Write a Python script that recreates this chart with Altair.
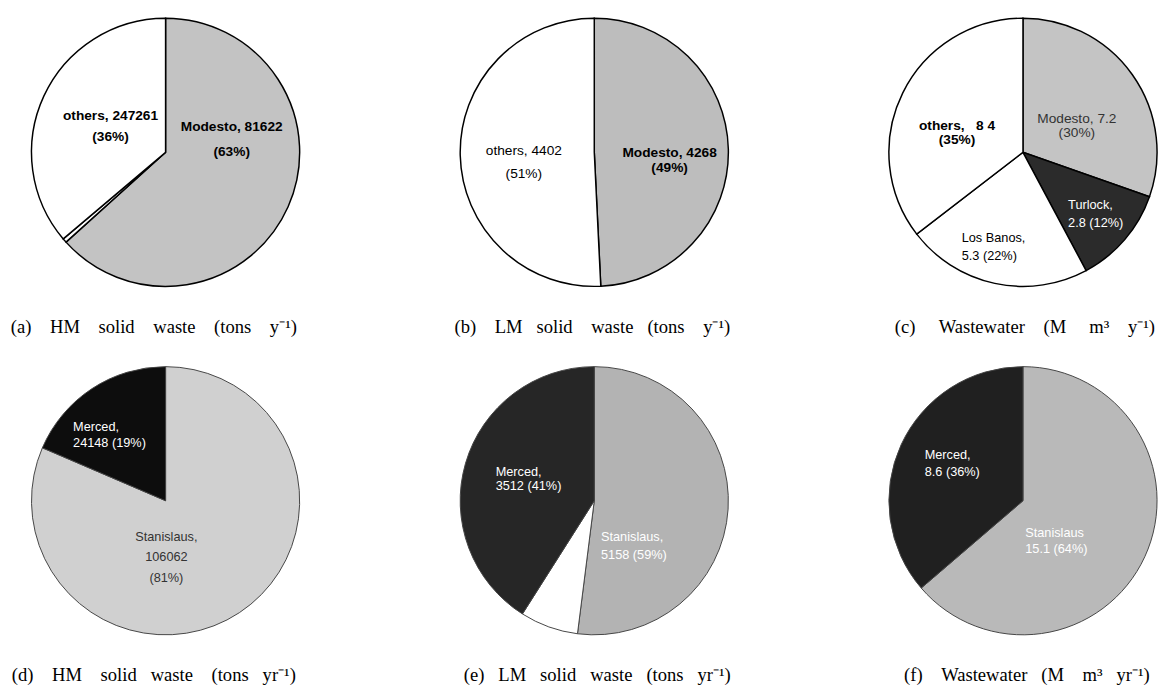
import altair as alt
import pandas as pd

NB = "\u00a0"
G5 = NB * 5
G4 = NB * 4  # wide word gap used in the captions
G3 = NB * 3

# ---------------- data (angular shares, label text as printed) ----
a_names = ["Modesto", "gap", "others"]
a_share = [63, 0.5, 36]
a_labels = ["Modesto, 81622\n(63%)", "", "others, 247261\n(36%)"]

b_names = ["Modesto", "others"]
b_share = [4268, 4402]
b_labels = ["Modesto, 4268\n(49%)", "others, 4402\n(51%)"]

c_names = ["Modesto", "Turlock", "Los Banos", "others"]
c_share = [7.2, 2.8, 5.3, 8.4]
c_labels = ["Modesto, 7.2\n(30%)", "Turlock,\n2.8 (12%)", "Los" + NB + "Banos,\n5.3 (22%)",
            "others," + NB * 3 + "8 4\n(35%)"]

d_names = ["Stanislaus", "Merced"]
d_share = [106062, 24148]
d_labels = ["Stanislaus,\n106062\n(81%)", "Merced,\n24148 (19%)"]

e_names = ["Stanislaus", "white", "Merced"]
e_share = [52, 7, 41]
e_labels = ["Stanislaus,\n5158 (59%)", "", "Merced,\n3512 (41%)"]

f_names = ["Stanislaus", "Merced"]
f_share = [15.1, 8.6]
f_labels = ["Stanislaus\n15.1 (64%)", "Merced,\n8.6 (36%)"]

captions = [
    "(a)" + G4 + "HM" + G4 + "solid" + G4 + "waste" + G4 + "(tons" + G4 + "y\u207b\u00b9)",
    "(b)" + G4 + "LM" + G3 + "solid" + G4 + "waste" + G3 + "(tons" + G4 + "y\u207b\u00b9)",
    "(c)" + G5 + "Wastewater" + G4 + "(M" + G5 + "m\u00b3" + G4 + "y\u207b\u00b9)",
    "(d)" + G4 + "HM" + G4 + "solid" + G3 + "waste" + G4 + "(tons" + G3 + "yr\u207b\u00b9)",
    "(e)" + G3 + "LM" + G3 + "solid" + G3 + "waste" + G3 + "(tons" + G3 + "yr\u207b\u00b9)",
    "(f)" + G4 + "Wastewater" + G3 + "(M" + G4 + "m\u00b3" + G3 + "yr\u207b\u00b9)",
]

W, H, R = 270, 280, 137


def pie(names, shares, labels, colors, specs, caption, cap_dx, cap_off, stroke, sw):
    df = pd.DataFrame({"name": names, "share": shares, "label": labels,
                       "k": list(range(len(names)))})
    base = alt.Chart(df).encode(
        theta=alt.Theta("share:Q", stack=True),
        order=alt.Order("k:Q"),
    )
    arcs = base.mark_arc(outerRadius=R, stroke=stroke, strokeWidth=sw).encode(
        color=alt.Color("name:N", scale=alt.Scale(domain=names, range=colors), legend=None)
    )
    layers = [arcs]
    for s in specs:
        t = base.mark_text(
            radius=s["r"], dx=s["dx"], dy=s["dy"], align=s.get("align", "center"),
            baseline="middle", font="Liberation Sans", fontSize=s.get("size", 13),
            fontWeight=s.get("weight", "normal"), lineBreak="\n",
            lineHeight=s.get("lh", 16), color=s.get("color", "black"),
        ).encode(
            text=alt.condition(alt.datum.name == s["name"], alt.Text("label:N"), alt.value(""))
        )
        layers.append(t)
    return alt.layer(*layers).properties(
        width=W, height=H,
        title=alt.TitleParams(caption, orient="bottom", anchor="middle", frame="group",
                              font="Liberation Serif", fontSize=19, fontWeight="normal",
                              color="black", offset=cap_off, dx=cap_dx),
    )


pa = pie(a_names, a_share, a_labels, ["#c3c3c3", "#ffffff", "#ffffff"],
         [dict(name="others", r=62, dx=0, dy=-11, size=14, weight="bold", lh=22),
          dict(name="Modesto", r=40, dx=31, dy=-42, size=14, weight="bold", lh=26)],
         captions[0], -12, 30, "black", 1.5)
pb = pie(b_names, b_share, b_labels, ["#bdbdbd", "#ffffff"],
         [dict(name="others", r=76, dx=4, dy=-3, size=14, lh=23),
          dict(name="Modesto", r=71, dx=6, dy=3, size=14, weight="bold", lh=15)],
         captions[1], -2, 30, "black", 1.5)
pc = pie(c_names, c_share, c_labels, ["#c4c4c4", "#2b2b2b", "#ffffff", "#ffffff"],
         [dict(name="others", r=74, dx=-1, dy=6, size=14, weight="bold", lh=14),
          dict(name="Modesto", r=65, dx=2, dy=4, size=14, lh=14, color="#333333"),
          dict(name="Turlock", r=70, dx=-7, dy=8, size=13, lh=19, align="left", color="white"),
          dict(name="Los Banos", r=93, dx=-43, dy=-3, size=13, lh=18, align="left")],
         captions[2], 2, 30, "black", 1.5)
pd_ = pie(d_names, d_share, d_labels, ["#d0d0d0", "#0d0d0d"],
          [dict(name="Merced", r=90, dx=-45, dy=0, lh=16, align="left", color="white"),
           dict(name="Stanislaus", r=56, dx=-30, dy=-10, lh=21, color="#333333")],
          captions[3], -12, 29, "#444444", 1)
pe = pie(e_names, e_share, e_labels, ["#b3b3b3", "#ffffff", "#262626"],
         [dict(name="Merced", r=81, dx=-23, dy=-7, lh=15, align="left", color="white"),
          dict(name="Stanislaus", r=50, dx=-43, dy=34, lh=18, align="left", color="white")],
         captions[4], 3, 29, "#444444", 1)
pf = pie(f_names, f_share, f_labels, ["#b9b9b9", "#202020"],
         [dict(name="Merced", r=94, dx=-15, dy=-7, lh=17, align="left", color="white"),
          dict(name="Stanislaus", r=40, dx=-34, dy=16, lh=17, align="left", color="white")],
         captions[5], 4, 29, "#444444", 1)

row1 = alt.hconcat(pa, pb, pc, spacing=168, bounds="flush").resolve_scale(
    theta="independent", color="independent")
row2 = alt.hconcat(pd_, pe, pf, spacing=168, bounds="flush").resolve_scale(
    theta="independent", color="independent")

chart = (
    alt.vconcat(row1, row2, spacing=27)
    .resolve_scale(theta="independent", color="independent")
    .properties(padding={"left": 2, "top": 0, "right": 0, "bottom": 0}, background="white")
    .configure_view(stroke=None)
)

chart.save("out.html", embed_options={"renderer": "svg", "actions": False})
